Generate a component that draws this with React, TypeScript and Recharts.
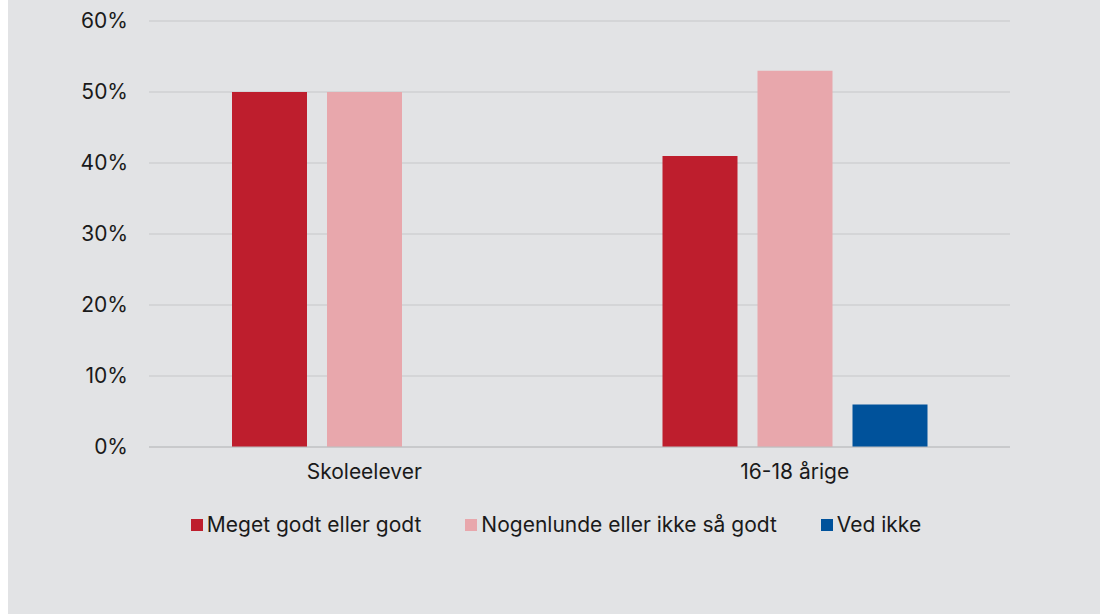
import React from "react";
import { BarChart, Bar, XAxis, YAxis, CartesianGrid } from "recharts";

const categories = ["Skoleelever", "16-18 årige"];
const seriesNames = ["Meget godt eller godt", "Nogenlunde eller ikke så godt", "Ved ikke"];
const meget = [50, 41];
const nogenlunde = [50, 53];
const vedIkke = [0, 6];
const yTicks = [0, 10, 20, 30, 40, 50, 60];
const colors = ["#be1e2d", "#e8a7ac", "#00529b"];

const data = categories.map((c, i) => ({
  name: c,
  s0: meget[i],
  s1: nogenlunde[i],
  s2: vedIkke[i],
}));

const FONT = "Inter, 'Noto Sans', sans-serif";
const FS = 21;

export default function App() {
  return (
    <div
      style={{
        position: "absolute",
        left: 8,
        top: 0,
        width: 1092,
        height: 614,
        background: "#e2e3e5",
        fontFamily: FONT,
      }}
    >
      <BarChart
        width={1092}
        height={500}
        data={data}
        margin={{ top: 21, right: 90, bottom: 0, left: 0 }}
        barGap={20}
        barSize={75}
      >
        <CartesianGrid vertical={false} stroke="#c6c7c9" strokeWidth={1} />
        <XAxis
          dataKey="name"
          height={53}
          tickLine={false}
          tickSize={0}
          tickMargin={17}
          axisLine={{ stroke: "#bdbec0", strokeWidth: 1 }}
          tick={{ fill: "#1a1a1a", fontSize: FS, fontFamily: FONT }}
        />
        <YAxis
          width={141}
          domain={[0, 60]}
          ticks={yTicks}
          tickFormatter={(v) => `${v}%`}
          axisLine={false}
          tickLine={false}
          tickSize={0}
          tickMargin={21}
          tick={{ fill: "#1a1a1a", fontSize: FS, fontFamily: FONT }}
        />
        <Bar dataKey="s0" name={seriesNames[0]} fill={colors[0]} isAnimationActive={false} />
        <Bar dataKey="s1" name={seriesNames[1]} fill={colors[1]} isAnimationActive={false} />
        <Bar dataKey="s2" name={seriesNames[2]} fill={colors[2]} isAnimationActive={false} />
      </BarChart>
      <div
        style={{
          position: "absolute",
          top: 510,
          left: 2,
          width: 1092,
          display: "flex",
          justifyContent: "center",
          gap: 44,
          fontSize: FS,
          color: "#1a1a1a",
          lineHeight: "30px",
        }}
      >
        {seriesNames.map((n, i) => (
          <div key={n} style={{ display: "flex", alignItems: "center" }}>
            <span
              style={{
                display: "inline-block",
                width: 12,
                height: 12,
                background: colors[i],
                marginRight: 4,
              }}
            />
            <span>{n}</span>
          </div>
        ))}
      </div>
    </div>
  );
}
